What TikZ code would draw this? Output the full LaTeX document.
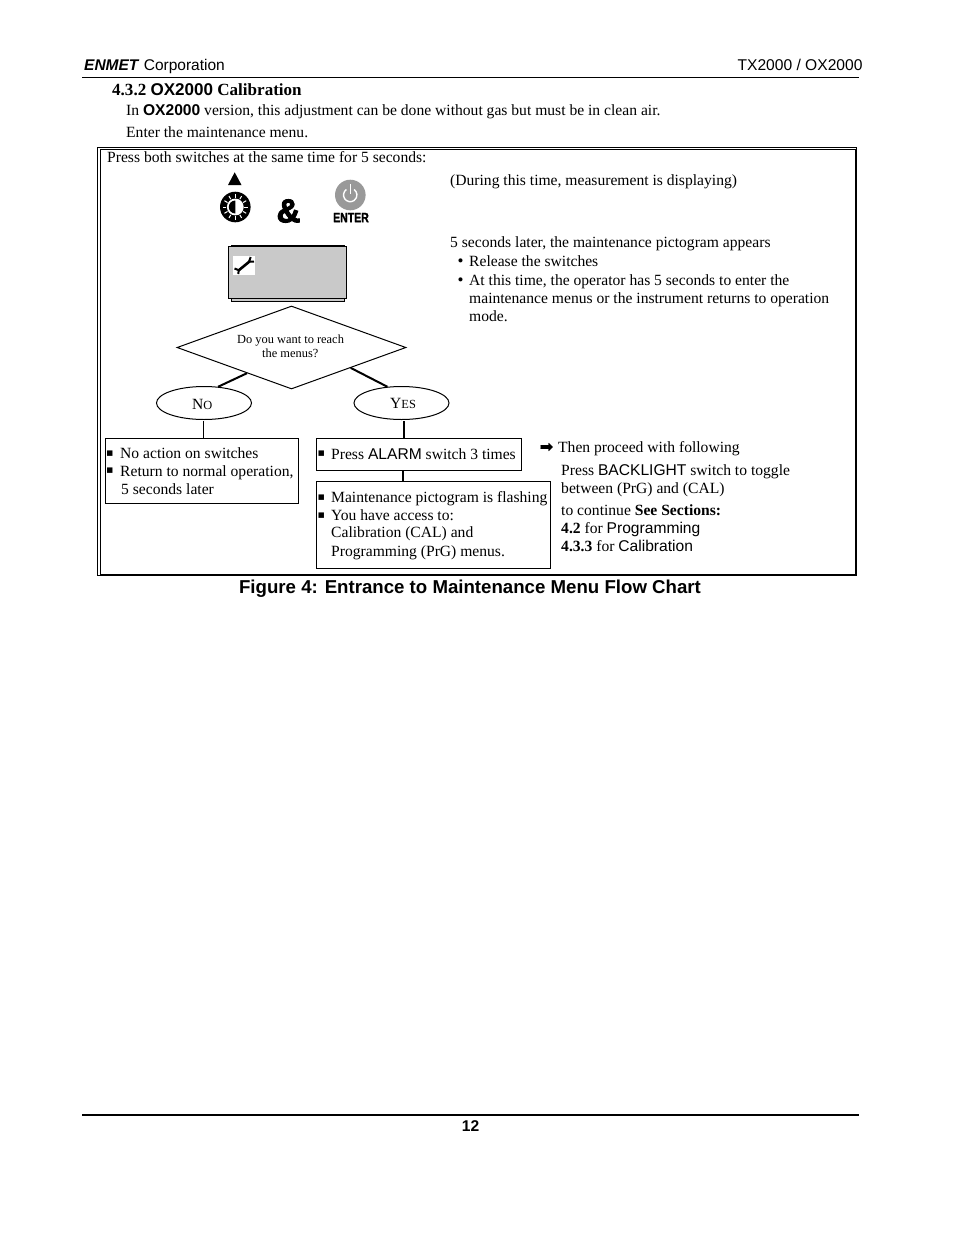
\documentclass[tikz,border=0pt]{standalone}
\usepackage{fontspec}
\setmainfont{Liberation Serif}
\setsansfont{Liberation Sans}
\newfontfamily\djv{DejaVu Sans}
\newfontfamily\djvb[FakeBold=1]{DejaVu Sans}
\newfontfamily\heavy[FakeBold=3]{Liberation Sans Bold}
\newfontfamily\narrowb[FakeStretch=0.78,FakeBold=1.2]{Liberation Sans Bold}
\usetikzlibrary{shapes.geometric}
\newcommand\fsz[1]{\fontsize{#1}{#1}\selectfont}
\newcommand\ar[1]{{\sffamily #1}}
\newcommand\bu{{\djv\fsz{11}▪}}
\tikzset{
 x=1pt,y=-1pt,
 txt/.style={anchor=base west,inner sep=0pt,font=\fsz{15.6}},
 box/.style={draw,line width=1pt},
 flow/.style={line width=1.2pt},
 thickflow/.style={line width=2pt},
 oval/.style={ellipse,draw,line width=1pt,minimum width=95pt,minimum height=33pt,inner sep=0pt},
}
\newcommand\T[4]{\node[txt] (#1) at (#2,#3) {#4};}
\begin{document}
\begin{tikzpicture}
\useasboundingbox (0,0) rectangle (954,1235);
\fill[white] (0,0) rectangle (954,1235);
% header
\T{hl}{84}{70}{\fsz{15.5}\ar{\textbf{\textit{ENMET}} Corporation}}
\node[txt,anchor=base east] (hr) at (862.7,70) {\ar{TX2000 / OX2000}};
\coordinate (hra) at (82,77); \coordinate (hrb) at (859,77);
\draw[line width=1pt] (hra) -- (hrb);
\T{sec}{112}{95.5}{\fsz{17.05}\textbf{4.3.2 \ar{OX2000} Calibration}}
\T{in}{126}{115}{In \ar{\textbf{OX2000}} version, this adjustment can be done without gas but must be in clean air.}
\T{ent}{126}{137}{Enter the maintenance menu.}
% frame
\draw[line width=1pt] (97.5,147.5) rectangle (856.7,575.5);
\draw[line width=1pt] (100,149.8) rectangle (855.5,574.3);
\T{press}{107}{162}{Press both switches at the same time for 5 seconds:}
% up triangle
\fill (234.7,172.3) -- (241.5,185) -- (228,185) -- cycle;
% dial
\fill (235.3,207) circle (15.3);
\foreach \a in {0,30,...,330}
  \draw[white,line width=1pt] ({235.3+9*cos(\a)},{207+9*sin(\a)}) -- ({235.3+12.6*cos(\a)},{207+12.6*sin(\a)});
\fill[white] (235.3,207) circle (8.4);
\fill (235.3,213.5) arc (90:270:6.5) -- cycle;
% ampersand
\node[inner sep=0pt,font=\heavy\fsz{33}] (amp) at (288.5,211) {\&};
% enter
\fill[black!40] (350.3,195) circle (15.3);
\draw[white,line width=1.4pt] (346.4,189.5) arc (-125:-415:6.7);
\draw[white,line width=1.4pt] (350.3,184) -- (350.3,194);
\node[inner sep=0pt,font=\narrowb\fsz{13.5}] (enter) at (351,217.6) {ENTER};
% display
\draw[line width=1pt,fill=black!21] (231.5,245.5) rectangle (344,301.5);
\node[draw,line width=1pt,fill=black!21,minimum width=118.5pt,minimum height=52pt,inner sep=0pt] (disp) at (287.5,272.8) {};
\fill[white] (233,256) rectangle (255,275);
\draw[line width=2.6pt] (238.5,270.5) -- (249.5,261.5);
\draw[line width=2pt] (250.7,257) -- (249,261.7) -- (254,261.5);
\draw[line width=2pt] (234.5,268.5) -- (238.7,270.2) -- (238.3,274);
% right text
\T{dur}{450}{185}{(During this time, measurement is displaying)}
\T{later}{450}{247}{5 seconds later, the maintenance pictogram appears}
\T{b1}{457.5}{266}{\fsz{17}•}\T{rel}{469}{266}{Release the switches}
\T{b2}{457.5}{285}{\fsz{17}•}\T{atth}{469}{285}{At this time, the operator has 5 seconds to enter the}
\T{mm}{469}{303}{maintenance menus or the instrument returns to operation}
\T{mode}{469}{321}{mode.}
% diamond
\node[diamond,draw,line width=1pt,aspect=2.76,minimum width=229pt,minimum height=83pt,inner sep=0pt] (dia) at (291.5,347.5) {};
\T{q1}{237}{343}{\fsz{12.4}Do you want to reach}
\T{q2}{262}{357}{\fsz{12.4}the menus?}
\node[oval] (no) at (204,403) {};
\node[oval] (yes) at (401.5,403) {};
\T{not}{192}{409}{N{\fsz{12.4}O}}
\T{yest}{390}{408}{Y{\fsz{12.4}ES}}
\draw[thickflow] (dia.210) -- (no.49);
\draw[thickflow] (dia.-19) -- (yes.131);
% boxes
\node[box,anchor=north west,minimum width=193.3pt,minimum height=65pt,inner sep=0pt] (b-no) at (104.8,438.2) {};
\node[box,anchor=north west,minimum width=205pt,minimum height=31.5pt,inner sep=0pt] (b-press) at (316.2,438.2) {};
\node[box,anchor=north west,minimum width=234pt,minimum height=87pt,inner sep=0pt] (b-acc) at (316.2,481.2) {};
\coordinate (c1) at (203.5,421); \coordinate (c2) at (404,421);
\draw[flow] (c1) -- (c1 |- b-no.north);
\draw[flow] (c2) -- (c2 |- b-press.north);
\coordinate (c3) at (403,470);
\draw[flow] (c3) -- (c3 |- b-acc.north);
\T{s1}{106}{456}{\bu}\T{na}{120}{458}{No action on switches}
\T{s2}{106}{473.5}{\bu}\T{ret}{120}{476}{Return to normal operation,}
\T{fs}{121}{494}{5 seconds later}
\T{s3}{317.5}{456.5}{\bu}\T{pa}{331}{459}{Press \ar{ALARM} switch 3 times}
\T{s4}{317.5}{500}{\bu}\T{mp}{331}{502}{Maintenance pictogram is flashing}
\T{s5}{317.5}{518}{\bu}\T{ya}{331}{520}{You have access to:}
\T{cal}{331}{537}{Calibration (CAL) and}
\T{prg}{331}{556}{Programming (PrG) menus.}
% far right
\T{arr}{539.5}{452}{{\djvb\fsz{16}➡}}\T{then}{558}{452}{Then proceed with following}
\T{pb}{561}{475}{Press \ar{BACKLIGHT} switch to toggle}
\T{bt}{561}{493}{between (PrG) and (CAL)}
\T{tc}{561}{515}{to continue \textbf{See Sections:}}
\T{s42}{561}{533}{\textbf{4.2} for \ar{Programming}}
\T{s433}{561}{551}{\textbf{4.3.3} for \ar{Calibration}}
% caption
\node[txt,anchor=base] (cap) at (470,593.3) {\sffamily\bfseries\fsz{18.65}Figure 4: Entrance to Maintenance Menu Flow Chart};
% footer
\coordinate (fa) at (82,1115); \coordinate (fb) at (859,1115);
\draw[line width=2pt] (fa) -- (fb);
\node[txt,anchor=base] (pg) at (470.5,1131) {\sffamily\bfseries 12};
\end{tikzpicture}
\end{document}
